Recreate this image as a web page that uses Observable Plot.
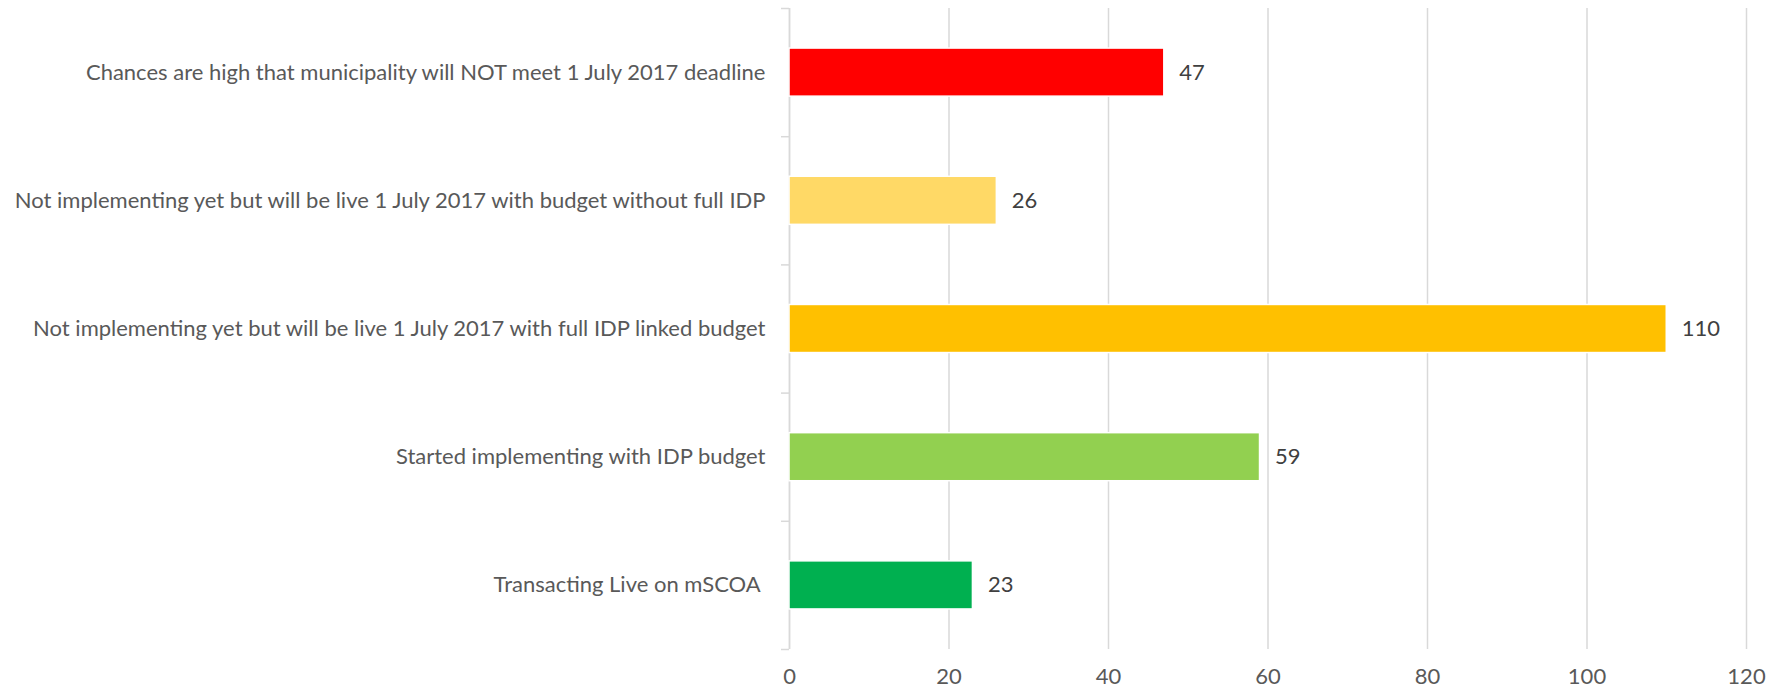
<!DOCTYPE html>
<html>
<head>
<meta charset="utf-8">
<script src="https://cdn.jsdelivr.net/npm/d3@7"></script>
<script src="https://cdn.jsdelivr.net/npm/@observablehq/plot@0.6"></script>
<style>
  html, body { margin: 0; padding: 0; background: #ffffff; }
  #chart svg { display: block; }
</style>
</head>
<body>
<div id="chart"></div>
<script>
// Categories listed top to bottom
const categories = [
  "Chances are high that municipality will NOT meet 1 July 2017 deadline",
  "Not implementing yet but will be live 1 July 2017 with budget without full IDP",
  "Not implementing yet but will be live 1 July 2017 with full IDP linked budget",
  "Started implementing with IDP budget",
  "Transacting Live on mSCOA "
];
const values = [47, 26, 110, 59, 23];
const barColors = ["#FF0000", "#FFD966", "#FFC000", "#92D050", "#00B050"];
const xTicks = [0, 20, 40, 60, 80, 100, 120];

const data = categories.map((c, i) => ({ category: c, value: values[i], color: barColors[i], idx: i }));
const half = 0.1875; // half of bar thickness, in category-step units
const boundaries = d3.range(categories.length + 1);
const centers = categories.map((_, i) => i + 0.5);

const fontFamily = "Lato, 'Open Sans', sans-serif";

const chart = Plot.plot({
  width: 1783,
  height: 692,
  marginLeft: 789,
  marginRight: 37,
  marginTop: 8,
  marginBottom: 43,
  style: { fontFamily, background: "#ffffff" },
  x: { domain: [0, 120], label: null },
  y: { domain: [0, categories.length], reverse: true, label: null },
  color: { type: "identity" },
  marks: [
    Plot.gridX(xTicks, { stroke: "#D9D9D9", strokeOpacity: 1, strokeWidth: 1.5 }),
    Plot.ruleX([0], { stroke: "#D9D9D9", strokeWidth: 1.5 }),
    Plot.axisY({ ticks: boundaries, tickSize: 8, tickFormat: () => "", stroke: "#D9D9D9", strokeWidth: 1.5, label: null }),
    Plot.axisY({
      ticks: centers,
      tickSize: 0,
      tickPadding: 24,
      tickFormat: d => categories[Math.floor(d)],
      fontSize: 22,
      fill: "#595959",
      label: null
    }),
    Plot.axisX({ ticks: xTicks, tickSize: 0, tickPadding: 19, fontSize: 22, fill: "#595959", label: null }),
    Plot.rectX(data, {
      x1: 0,
      x2: "value",
      y1: d => d.idx + 0.5 - half,
      y2: d => d.idx + 0.5 + half,
      fill: "color",
      stroke: "#ffffff",
      strokeWidth: 1.5
    }),
    Plot.text(data, {
      x: "value",
      y: d => d.idx + 0.5,
      text: d => String(d.value),
      dx: 15,
      textAnchor: "start",
      fontSize: 22,
      fill: "#404040"
    })
  ]
});
document.getElementById("chart").appendChild(chart);
</script>
</body>
</html>
